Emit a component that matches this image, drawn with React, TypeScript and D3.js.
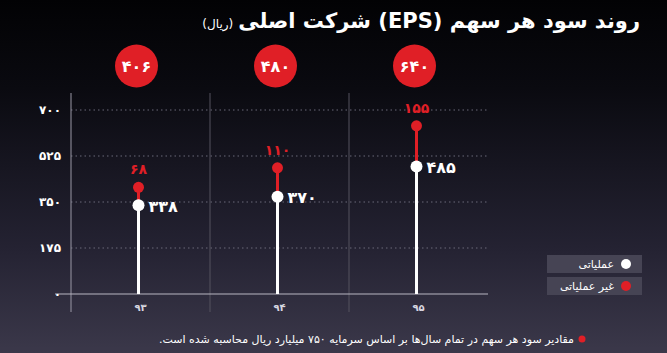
import React from 'react';
import * as d3 from 'd3';

const years = [93, 94, 95];
const operating = [338, 370, 485];
const nonOperating = [68, 110, 155];
const yTicks = [0, 175, 350, 525, 700];
const legendLabels = ['عملیاتی', 'غیر عملیاتی'];

const RED = '#e01f26';
const FONT = '"DejaVu Sans", sans-serif';

// persian digits
const fa = (n: number | string) =>
	String(n).replace(/\d/g, (d) => '۰۱۲۳۴۵۶۷۸۹'[+d]);

const App: React.FC = () => {
	const W = 667;
	const H = 353;
	const margin = { left: 71, right: 179, top: 93, bottom: 59 };

	const x = d3
		.scaleBand<number>()
		.domain(years)
		.range([margin.left, W - margin.right]);
	const y = d3
		.scaleLinear()
		.domain([0, 700])
		.range([H - margin.bottom, 110]);

	const totals = operating.map((v, i) => v + nonOperating[i]);
	const cx = (yr: number) => (x(yr) ?? 0) + x.bandwidth() / 2;
	const y0 = y(0);

	return (
		<svg
			width={W}
			height={H}
			style={{ position: 'absolute', left: 0, top: 0 }}
			fontFamily={FONT}>
			<defs>
				<linearGradient id="bg" x1="0" y1="0" x2="0" y2="1">
					<stop offset="0%" stopColor="#020204" />
					<stop offset="25%" stopColor="#0a0a10" />
					<stop offset="70%" stopColor="#242232" />
					<stop offset="100%" stopColor="#3b384a" />
				</linearGradient>
			</defs>
			<rect width={W} height={H} fill="url(#bg)" />

			{/* title */}
			<text x={640} y={28} direction="rtl" textAnchor="start" fill="#fff">
				<tspan fontSize={21} fontWeight="bold">
					روند سود هر سهم (EPS) شرکت اصلی
				</tspan>
				<tspan fontSize={12} dx={-5}>
					(ریال)
				</tspan>
			</text>

			{/* grid */}
			{yTicks
				.filter((t) => t > 0)
				.map((t) => (
					<line
						key={t}
						x1={margin.left}
						x2={W - margin.right}
						y1={y(t)}
						y2={y(t)}
						stroke="#6a6878"
						strokeDasharray="1.5 3"
					/>
				))}
			{years.map((yr) => (
				<line
					key={yr}
					x1={x(yr)}
					x2={x(yr)}
					y1={93}
					y2={312}
					stroke={yr === years[0] ? '#9a98a6' : '#55535f'}
					strokeWidth={1}
				/>
			))}
			<line x1={55} x2={W - margin.right} y1={y0} y2={y0} stroke="#b8b6c2" />

			{/* y ticks */}
			{yTicks.map((t) => (
				<text
					key={t}
					x={61}
					y={y(t)}
					dy="0.35em"
					textAnchor="end"
					fill="#fff"
					fontSize={12}
					fontWeight="bold">
					{fa(t)}
				</text>
			))}

			{/* x labels */}
			{years.map((yr) => (
				<text
					key={yr}
					x={cx(yr)}
					y={307}
					dy="0.35em"
					textAnchor="middle"
					fill="#d8d6e0"
					fontSize={10}
					fontWeight="bold">
					{fa(yr)}
				</text>
			))}

			{/* total bubbles */}
			{years.map((yr, i) => (
				<g key={yr}>
					<circle cx={cx(yr) - 4} cy={66} r={21.5} fill={RED} />
					<text
						x={cx(yr) - 4}
						y={66}
						dy="0.36em"
						textAnchor="middle"
						fill="#fff"
						fontSize={16}
						fontWeight="bold">
						{fa(totals[i])}
					</text>
				</g>
			))}

			{/* lollipops */}
			{years.map((yr, i) => {
				const xc = cx(yr) - 2;
				return (
					<g key={yr}>
						<line x1={xc} x2={xc} y1={y0} y2={y(operating[i])} stroke="#fff" strokeWidth={3} />
						<line
							x1={xc}
							x2={xc}
							y1={y(operating[i])}
							y2={y(totals[i])}
							stroke={RED}
							strokeWidth={3}
						/>
						<circle cx={xc} cy={y(totals[i])} r={5.5} fill={RED} />
						<circle cx={xc} cy={y(operating[i])} r={6} fill="#fff" />
						<text
							x={xc + 10}
							y={y(operating[i])}
							dy="0.4em"
							fill="#fff"
							fontSize={16}
							fontWeight="bold">
							{fa(operating[i])}
						</text>
						<text
							x={xc}
							y={y(totals[i]) - 13}
							textAnchor="middle"
							fill={RED}
							fontSize={14}
							fontWeight="bold">
							{fa(nonOperating[i])}
						</text>
					</g>
				);
			})}

			{/* legend */}
			{legendLabels.map((l, i) => (
				<g key={l} transform={`translate(547,${255 + i * 22})`}>
					<rect width={95} height={18} fill="#464454" />
					<circle cx={79} cy={9} r={5} fill={i === 0 ? '#fff' : RED} />
					<text x={67} y={9} dy="0.35em" textAnchor="end" fill="#fff" fontSize={11}>
						{l}
					</text>
				</g>
			))}

			{/* footnote */}
			<circle cx={582} cy={339} r={3.5} fill={RED} />
			<text x={574} y={343} direction="rtl" textAnchor="start" fill="#fff" fontSize={11}>
				مقادیر سود هر سهم در تمام سال‌ها بر اساس سرمایه ۷۵۰ میلیارد ریال محاسبه شده است.
			</text>
		</svg>
	);
};

export default App;
